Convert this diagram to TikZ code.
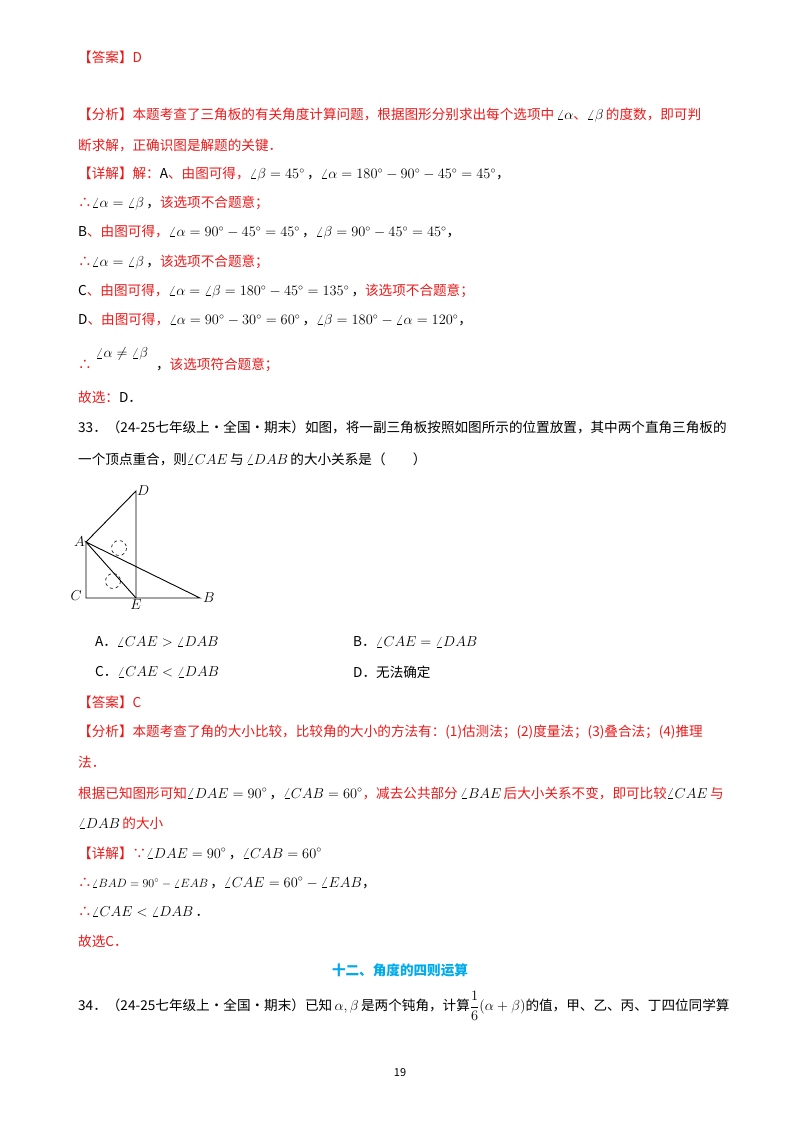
\documentclass[tikz,border=0pt]{standalone}
\usepackage{fontspec}
\setmainfont{Noto Sans CJK SC}
\definecolor{ansred}{RGB}{235,25,25}
\definecolor{headblue}{RGB}{0,170,235}
\newcommand{\rd}[1]{\textcolor{ansred}{#1}}
\begin{document}
\begin{tikzpicture}[x=1pt,y=-1pt,
  txt/.style={anchor=west,inner sep=0pt,font=\fontsize{13.6}{16}\selectfont},
  lbl/.style={inner sep=1pt,font=\fontsize{14}{16}\selectfont},
  edge/.style={line width=0.9pt},
  dcirc/.style={dashed,line width=0.6pt}]
\useasboundingbox (0,0) rectangle (800,1132);
\node[txt] (l1) at (78,57) {\rd{【答案】D}};
\node[txt] (l2) at (78,115) {\rd{【分析】本题考查了三角板的有关角度计算问题，根据图形分别求出每个选项中}$\,\angle\alpha$\rd{、}$\angle\beta\,$\rd{的度数，即可判}};
\node[txt] (l3) at (78,145) {\rd{断求解，正确识图是解题的关键．}};
\node[txt] (l4) at (78,174) {\rd{【详解】解：}A\rd{、由图可得，}$\angle\beta=45^\circ$\,，$\angle\alpha=180^\circ-90^\circ-45^\circ=45^\circ$，};
\node[txt] (l5) at (78,203) {\rd{∴}$\angle\alpha=\angle\beta$\,，\rd{该选项不合题意；}};
\node[txt] (l6) at (78,232) {B\rd{、由图可得，}$\angle\alpha=90^\circ-45^\circ=45^\circ$\,，$\angle\beta=90^\circ-45^\circ=45^\circ$，};
\node[txt] (l7) at (78,262) {\rd{∴}$\angle\alpha=\angle\beta$\,，\rd{该选项不合题意；}};
\node[txt] (l8) at (78,291) {C\rd{、由图可得，}$\angle\alpha=\angle\beta=180^\circ-45^\circ=135^\circ$\,，\rd{该选项不合题意；}};
\node[txt] (l9) at (78,320) {D\rd{、由图可得，}$\angle\alpha=90^\circ-30^\circ=60^\circ$\,，$\angle\beta=180^\circ-\angle\alpha=120^\circ$，};
\node[txt] (l10) at (78,360) {\rd{∴}\hspace{4pt}\raisebox{12pt}{$\angle\alpha\neq\angle\beta$}\hspace{8pt}，\rd{该选项符合题意；}};
\node[txt] (l11) at (78,397) {\rd{故选：}D．};
\node[txt] (l12) at (78,427) {33．（24-25七年级上·全国·期末）如图，将一副三角板按照如图所示的位置放置，其中两个直角三角板的};
\node[txt] (l13) at (78,459) {一个顶点重合，则$\angle CAE\,$与$\,\angle DAB\,$的大小关系是（\hspace{2em}）};
% figure
\coordinate (A) at (86,542); \coordinate (D) at (136,491);
\coordinate (C) at (86,598); \coordinate (E) at (136,598); \coordinate (B) at (200,598);
\draw[edge] (A) -- (D) -- (E) -- (C) -- cycle;
\draw[edge] (E) -- (B) -- (A) -- (E);
\draw[dcirc] (119,548) circle (7.5);
\draw[dcirc] (113,581) circle (7.5);
\node[lbl,anchor=west] (nD) at (D) {$D$};
\node[lbl,anchor=east] (nA) at (A) {$A$};
\node[lbl,anchor=east] (nC) at ([xshift=-3pt,yshift=2pt]C) {$C$};
\node[lbl,anchor=north] (nE) at (E) {$E$};
\node[lbl,anchor=west] (nB) at ([xshift=2pt]B) {$B$};
\node[txt] (oA) at (95,642) {A．$\angle CAE>\angle DAB$};
\node[txt] (oB) at (353,642) {B．$\angle CAE=\angle DAB$};
\node[txt] (oC) at (95,672) {C．$\angle CAE<\angle DAB$};
\node[txt] (oD) at (353,672) {D．无法确定};
\node[txt] (m1) at (78,702) {\rd{【答案】C}};
\node[txt] (m2) at (78,732) {\rd{【分析】本题考查了角的大小比较，比较角的大小的方法有：(1)估测法；(2)度量法；(3)叠合法；(4)推理}};
\node[txt] (m3) at (78,762) {\rd{法．}};
\node[txt] (m4) at (78,793) {\rd{根据已知图形可知}$\angle DAE=90^\circ$\,，$\angle CAB=60^\circ$\rd{，减去公共部分}$\,\angle BAE\,$\rd{后大小关系不变，即可比较}$\angle CAE\,$\rd{与}};
\node[txt] (m5) at (78,823) {$\angle DAB\,$\rd{的大小}};
\node[txt] (m6) at (78,853) {\rd{【详解】∵}$\angle DAE=90^\circ$\,，$\angle CAB=60^\circ$};
\node[txt] (m7) at (78,883) {\rd{∴}{\fontsize{11.5}{13}\selectfont$\angle BAD=90^\circ-\angle EAB$}\,，$\angle CAE=60^\circ-\angle EAB$，};
\node[txt] (m8) at (78,912) {\rd{∴}$\angle CAE<\angle DAB$\,．};
\node[txt] (m9) at (78,941) {\rd{故选C．}};
\node[inner sep=0pt,font=\fontsize{13.6}{16}\selectfont\bfseries,text=headblue] (h) at (400,970) {十二、角度的四则运算};
\node[txt] (n1) at (78,1006) {34．（24-25七年级上·全国·期末）已知$\,\alpha,\beta\,$是两个钝角，计算$\displaystyle\frac{1}{6}(\alpha+\beta)$的值，甲、乙、丙、丁四位同学算};
\node[inner sep=0pt,font=\fontsize{11}{13}\selectfont] (pg) at (400,1073) {19};
\end{tikzpicture}
\end{document}
